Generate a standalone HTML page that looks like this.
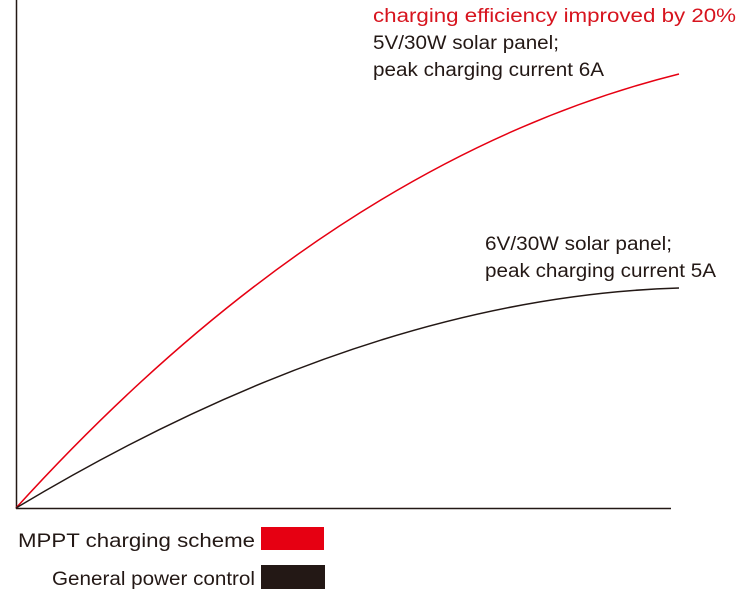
<!DOCTYPE html>
<html><head><style>
html,body{margin:0;padding:0;background:#fff;}
svg text{font-family:"Liberation Sans",Arial,sans-serif;font-size:19px;fill:#231815;}
</style></head><body>
<svg width="750" height="595" viewBox="0 0 750 595" xmlns="http://www.w3.org/2000/svg">
<line x1="16.5" y1="0" x2="16.5" y2="509" stroke="#231815" stroke-width="1.5"/>
<line x1="16" y1="508.5" x2="671" y2="508.5" stroke="#231815" stroke-width="1.5"/>
<path d="M16,508 Q331.6,160.8 679,74" fill="none" stroke="#e60012" stroke-width="1.5"/>
<path d="M16,508 Q367,297.4 679,288" fill="none" stroke="#231815" stroke-width="1.5"/>
<text x="373" y="22" textLength="363" lengthAdjust="spacingAndGlyphs" style="fill:#d7141e">charging efficiency improved by 20%</text>
<text x="373" y="49" textLength="186" lengthAdjust="spacingAndGlyphs">5V/30W solar panel;</text>
<text x="373" y="76" textLength="231" lengthAdjust="spacingAndGlyphs">peak charging current 6A</text>
<text x="485" y="250" textLength="187" lengthAdjust="spacingAndGlyphs">6V/30W solar panel;</text>
<text x="485" y="277" textLength="231" lengthAdjust="spacingAndGlyphs">peak charging current 5A</text>
<text x="18" y="547" textLength="237" lengthAdjust="spacingAndGlyphs">MPPT charging scheme</text>
<rect x="261" y="527" width="63" height="23" fill="#e60012"/>
<text x="52" y="585" textLength="203" lengthAdjust="spacingAndGlyphs">General power control</text>
<rect x="261" y="565" width="64" height="24" fill="#231815"/>
</svg>
</body></html>
